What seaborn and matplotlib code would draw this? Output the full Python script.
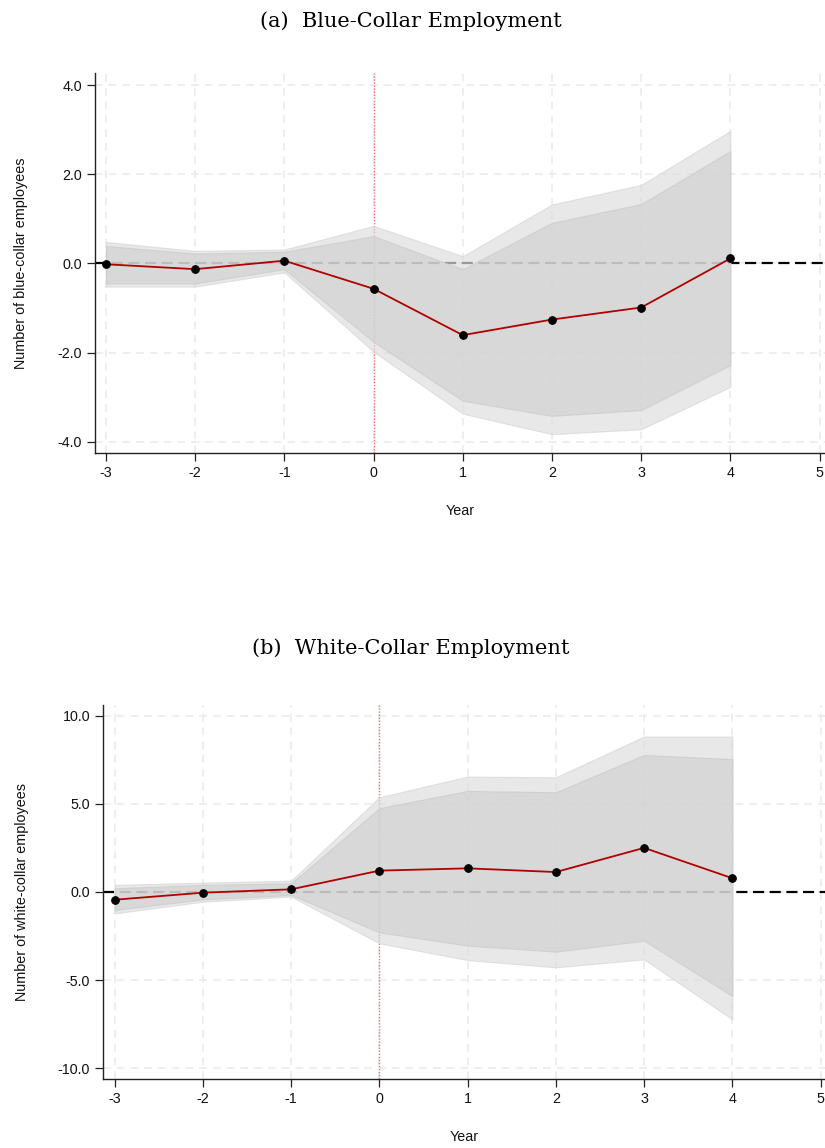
import numpy as np
import pandas as pd
import matplotlib
matplotlib.use("Agg")
import matplotlib.pyplot as plt
import seaborn as sns

# ---------------- data ----------------
years = [-3, -2, -1, 0, 1, 2, 3, 4]

blue_coef = [-0.02, -0.13, 0.06, -0.57, -1.61, -1.26, -0.99, 0.11]
blue_hi95 = [0.48, 0.28, 0.31, 0.84, 0.16, 1.32, 1.76, 2.97]
blue_lo95 = [-0.52, -0.52, -0.20, -1.98, -3.37, -3.83, -3.72, -2.77]
blue_hi90 = [0.39, 0.22, 0.26, 0.61, -0.13, 0.91, 1.33, 2.52]
blue_lo90 = [-0.45, -0.45, -0.13, -1.76, -3.08, -3.42, -3.29, -2.28]

white_coef = [-0.44, -0.04, 0.15, 1.21, 1.34, 1.13, 2.50, 0.78]
white_hi95 = [0.40, 0.53, 0.64, 5.37, 6.54, 6.50, 8.81, 8.81]
white_lo95 = [-1.21, -0.55, -0.26, -2.91, -3.86, -4.27, -3.82, -7.22]
white_hi90 = [0.21, 0.40, 0.49, 4.75, 5.73, 5.65, 7.77, 7.53]
white_lo90 = [-1.02, -0.42, -0.17, -2.29, -3.04, -3.38, -2.76, -5.90]

xticks = [-3, -2, -1, 0, 1, 2, 3, 4, 5]
blue_yticks = [-4.0, -2.0, 0.0, 2.0, 4.0]
white_yticks = [-10.0, -5.0, 0.0, 5.0, 10.0]

titles = ["(a)  Blue-Collar Employment", "(b)  White-Collar Employment"]
ylabels = ["Number of blue-collar employees", "Number of white-collar employees"]

# ---------------- style ----------------
sns.set_theme(style="white")
plt.rcParams["font.family"] = ["Liberation Sans", "DejaVu Sans"]

fig = plt.figure(figsize=(8.25, 11.48), dpi=100)

panels = [
    dict(pos=[95/825, 1-453.3/1148, 730/825, (453.3-73)/1148],
         xlim=(-3.123, 5.061), ylim=(-4.26, 4.27),
         coef=blue_coef, hi95=blue_hi95, lo95=blue_lo95, hi90=blue_hi90, lo90=blue_lo90,
         yticks=blue_yticks, title=titles[0], ylabel=ylabels[0], title_y=21),
    dict(pos=[103.3/825, 1-1079.3/1148, 721.7/825, (1079.3-705)/1148],
         xlim=(-3.129, 5.05), ylim=(-10.62, 10.6),
         coef=white_coef, hi95=white_hi95, lo95=white_lo95, hi90=white_hi90, lo90=white_lo90,
         yticks=white_yticks, title=titles[1], ylabel=ylabels[1], title_y=648),
]

for p in panels:
    ax = fig.add_axes(p["pos"])
    df = pd.DataFrame({"year": years, "coef": p["coef"]})

    # grid
    for t in xticks:
        ax.axvline(t, color="#e9e9e9", lw=1.1, ls=(0, (5, 4)), zorder=0)
    for t in p["yticks"]:
        ax.axhline(t, color="#e9e9e9", lw=1.1, ls=(0, (5, 4)), zorder=0)

    # zero reference line
    ax.axhline(0, color="black", lw=1.6, ls=(0, (5, 2.5)), zorder=1)
    # event line
    ax.axvline(0, color="#f07070", lw=1.0, ls=(0, (1, 1.2)), zorder=1)

    # confidence bands
    ax.fill_between(years, p["lo95"], p["hi95"], color=(222/255,)*3, alpha=0.69,
                    lw=0.8, edgecolor="#d6d6d6", zorder=2)
    ax.fill_between(years, p["lo90"], p["hi90"], color=(208/255,)*3, alpha=0.66,
                    lw=0.8, edgecolor="#c9c9c9", zorder=3)

    sns.lineplot(data=df, x="year", y="coef", ax=ax, color="#b00000", lw=1.3,
                 marker="o", markersize=5.5, markerfacecolor="black",
                 markeredgecolor="black", zorder=5)

    ax.set_xlim(*p["xlim"])
    ax.set_ylim(*p["ylim"])
    ax.set_xticks(xticks)
    ax.set_xticklabels([str(t) for t in xticks])
    ax.set_yticks(p["yticks"])
    ax.set_yticklabels([f"{t:.1f}" for t in p["yticks"]])
    ax.tick_params(axis="both", which="major", direction="out", length=5.5, width=0.9,
                   color="#222222", labelsize=10.3, labelcolor="#111111",
                   left=True, bottom=True, pad=4)
    for s in ["top", "right"]:
        ax.spines[s].set_visible(False)
    for s in ["left", "bottom"]:
        ax.spines[s].set_color("#222222")
        ax.spines[s].set_linewidth(1.0)
    ax.grid(False)
    ax.set_xlabel("Year", fontsize=10.3, labelpad=17, color="#111111")
    ax.set_ylabel(p["ylabel"], fontsize=10.4, labelpad=21, color="#111111")

    fig.text(411/825, 1 - p["title_y"]/1148, p["title"], ha="center", va="center",
             fontsize=15, family=["DejaVu Serif"], color="black")

fig.savefig("out.png", dpi=100)
